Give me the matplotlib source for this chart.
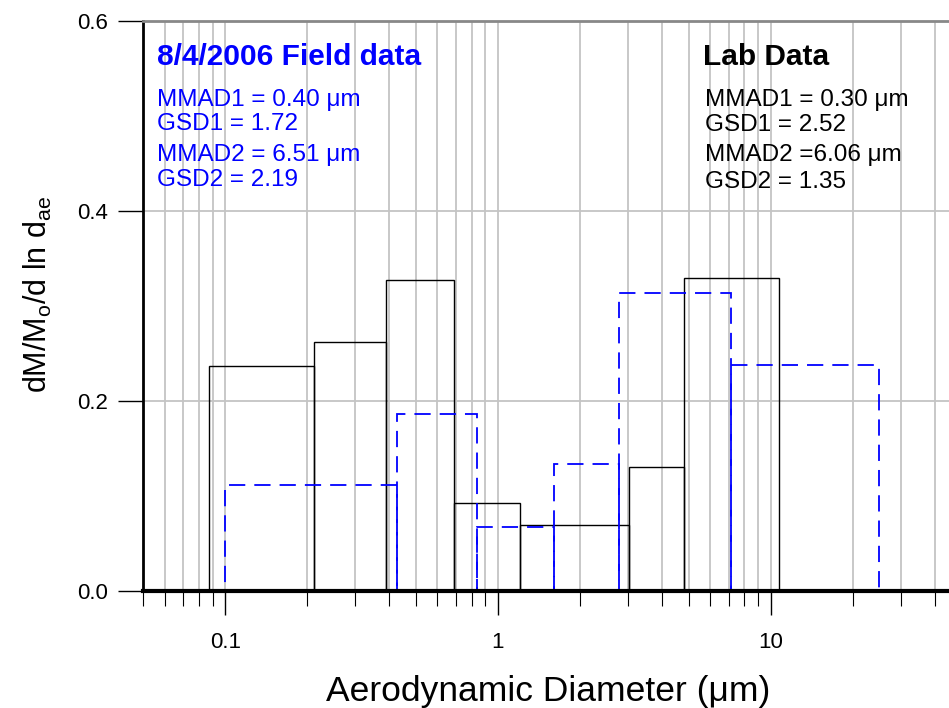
import matplotlib
matplotlib.use("Agg")
import matplotlib.pyplot as plt
from matplotlib.ticker import LogLocator, NullFormatter, FixedLocator, FixedFormatter

plt.rcParams['font.family'] = ['Liberation Sans', 'DejaVu Sans']
plt.rcParams['mathtext.fontset'] = 'custom'
plt.rcParams['mathtext.rm'] = 'Liberation Sans'

# Lab data (black, solid)
lab_edges = [0.087, 0.2125, 0.388, 0.688, 1.20, 3.03, 4.80, 10.7]
lab_values = [0.237, 0.262, 0.327, 0.093, 0.069, 0.131, 0.330]

# Field data 8/4/2006 (blue, dashed)
field_edges = [0.10, 0.426, 0.837, 1.60, 2.77, 7.12, 24.9]
field_values = [0.112, 0.186, 0.067, 0.134, 0.314, 0.238]

y_ticks = [0.0, 0.2, 0.4, 0.6]
y_ticklabels = ['0.0', '0.2', '0.4', '0.6']
x_ticks = [0.1, 1, 10]
x_ticklabels = ['0.1', '1', '10']

field_text = ['MMAD1 = 0.40 \u03bcm', 'GSD1 = 1.72', 'MMAD2 = 6.51 \u03bcm', 'GSD2 = 2.19']
lab_text = ['MMAD1 = 0.30 \u03bcm', 'GSD1 = 2.52', 'MMAD2 =6.06 \u03bcm', 'GSD2 = 1.35']

W, H = 949, 708
fig = plt.figure(figsize=(W / 100, H / 100), dpi=100)
ax = fig.add_axes([143 / W, 1 - 591 / H, (W - 143) / W, (591 - 21) / H])

ax.set_xscale('log')
ax.set_xlim(0.05, 45.0)
ax.set_ylim(0, 0.6)

# bars
for i, v in enumerate(lab_values):
    l, r = lab_edges[i], lab_edges[i + 1]
    ax.bar(l, v, width=r - l, align='edge', fill=False, edgecolor='black',
           linewidth=1.0, zorder=3)
for i, v in enumerate(field_values):
    l, r = field_edges[i], field_edges[i + 1]
    ax.bar(l, v, width=r - l, align='edge', fill=False, edgecolor='#0000ff',
           linewidth=1.3, linestyle=(0, (9, 5)), zorder=4)

# ticks
ax.xaxis.set_major_locator(FixedLocator(x_ticks))
ax.xaxis.set_major_formatter(FixedFormatter(x_ticklabels))
ax.xaxis.set_minor_locator(LogLocator(base=10, subs=[2, 3, 4, 5, 6, 7, 8, 9]))
ax.xaxis.set_minor_formatter(NullFormatter())
ax.yaxis.set_major_locator(FixedLocator(y_ticks))
ax.yaxis.set_major_formatter(FixedFormatter(y_ticklabels))

ax.tick_params(axis='x', which='major', direction='out', length=17.5, width=1.0,
               pad=12, labelsize=16)
ax.tick_params(axis='x', which='minor', direction='out', length=11, width=0.8)
ax.tick_params(axis='y', which='major', direction='out', length=18, width=1.0,
               pad=7, labelsize=16)

ax.grid(True, which='both', axis='x', color='#c4c4c4', linewidth=1.3, zorder=0)
ax.grid(True, which='major', axis='y', color='#c4c4c4', linewidth=1.3, zorder=0)
ax.set_axisbelow(True)

ax.spines['right'].set_visible(False)
ax.spines['top'].set_color('#888888')
ax.spines['top'].set_linewidth(2)
ax.spines['left'].set_linewidth(2)
ax.spines['bottom'].set_linewidth(3)
for s in ax.spines.values():
    s.set_zorder(10)

fig.text(548 / W, 1 - 691 / H, 'Aerodynamic Diameter (\u03bcm)', fontsize=25.5,
         ha='center', va='center')
ax.set_ylabel(r'dM/M$_\mathregular{o}$/d ln d$_\mathregular{ae}$', fontsize=22, labelpad=10)
ax.yaxis.set_label_coords(-0.11, 0.52)

# annotations
fig.text(157 / W, 1 - 57 / H, '8/4/2006 Field data', color='#0000ff', fontsize=21.5,
         fontweight='bold', va='center', ha='left')
for t, y in zip(field_text, [100, 124, 155, 180]):
    fig.text(157 / W, 1 - y / H, t, color='#0000ff', fontsize=17.5, va='center', ha='left')

fig.text(703 / W, 1 - 57 / H, 'Lab Data', color='black', fontsize=21.5,
         fontweight='bold', va='center', ha='left')
for t, y in zip(lab_text, [100, 125, 155, 182]):
    fig.text(705 / W, 1 - y / H, t, color='black', fontsize=17.5, va='center', ha='left')

fig.savefig('out.png', dpi=100)
